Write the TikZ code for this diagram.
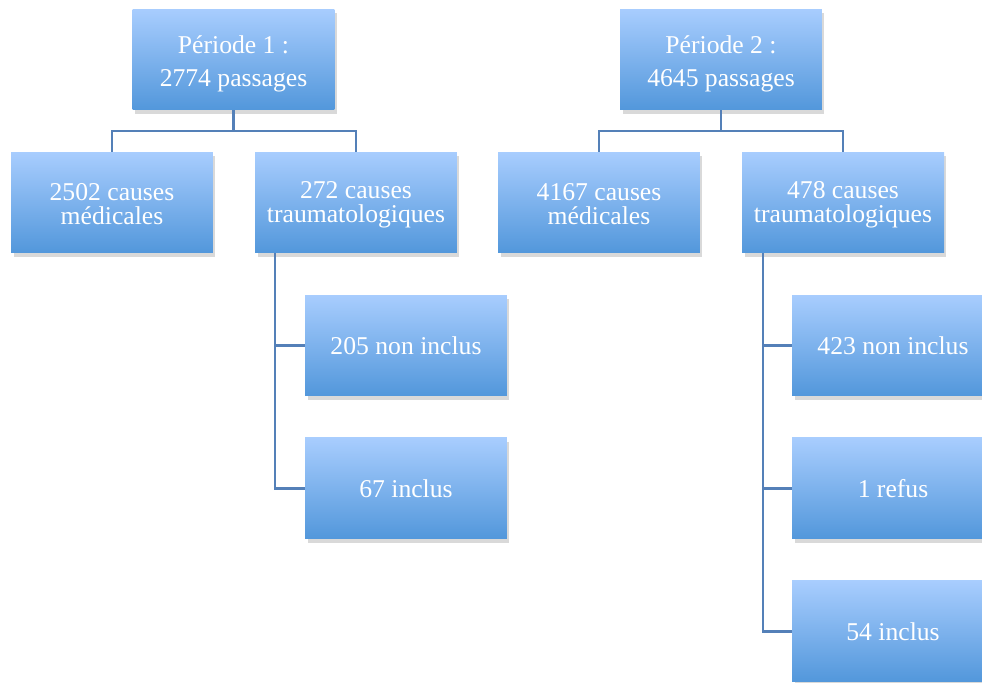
\documentclass[tikz,border=0pt]{standalone}
\usepackage{fontspec}
\setmainfont{Liberation Serif}
\usetikzlibrary{shadows}
\definecolor{boxtop}{RGB}{168,205,254}
\definecolor{boxbot}{RGB}{82,151,219}
\definecolor{wire}{RGB}{84,128,184}
\newcommand{\lowtop}[1]{\rule{0pt}{#1}}
\tikzset{
  box/.style={rectangle, minimum width=4.04cm, minimum height=2.02cm, inner sep=0pt,
    top color=boxtop, bottom color=boxbot, text=white, align=center,
    font=\fontsize{14.6}{13.7}\selectfont,
    drop shadow={opacity=0.3, shadow xshift=0.05cm, shadow yshift=-0.08cm}},
  wire/.style={draw=wire, line width=1.3pt}
}
\begin{document}
\begin{tikzpicture}[x=0.02cm, y=0.02cm, node distance=2.86cm]
                \clip (0,0) rectangle (982,-682);

                \node[box] (p1) at (233.5,-59.5) {\lowtop{15.5pt}Période 1 :\\[5pt]2774 passages};
                \node[box] (m1) at ([shift={(-121.5,-143)}] p1) {\lowtop{11pt}2502 causes\\médicales};
                \node[box] (t1) at ([shift={(122.5,-143)}] p1) {\lowtop{12.5pt}272 causes\\traumatologiques};
                \node[box] (n1) at ([shift={(50,-143)}] t1) {205 non inclus};
                \node[box] (i1) [below of=n1] {67 inclus};

                \node[box] (p2) at (721,-59.5) {\lowtop{15.5pt}Période 2 :\\[5pt]4645 passages};
                \node[box] (m2) at ([shift={(-122,-143)}] p2) {\lowtop{11pt}4167 causes\\médicales};
                \node[box] (t2) at ([shift={(122,-143)}] p2) {\lowtop{12.5pt}478 causes\\traumatologiques};
                \node[box] (n2) at ([shift={(50,-143)}] t2) {423 non inclus};
                \node[box] (r2) [below of=n2] {1 refus};
                \node[box] (i2) [below of=r2] {54 inclus};

                \draw[wire] (p1.south) -- ++(0,-21) coordinate (j1);
                \draw[wire] (m1.north) |- (j1) -| (t1.north);
                \draw[wire] ([xshift=0.4cm] t1.south west) |- (n1.west);
                \draw[wire] ([xshift=0.4cm] t1.south west) |- (i1.west);

                \draw[wire] (p2.south) -- ++(0,-21) coordinate (j2);
                \draw[wire] (m2.north) |- (j2) -| (t2.north);
                \draw[wire] ([xshift=0.42cm] t2.south west) |- (n2.west);
                \draw[wire] ([xshift=0.42cm] t2.south west) |- (r2.west);
                \draw[wire] ([xshift=0.42cm] t2.south west) |- (i2.west);
            \end{tikzpicture}
\end{document}
